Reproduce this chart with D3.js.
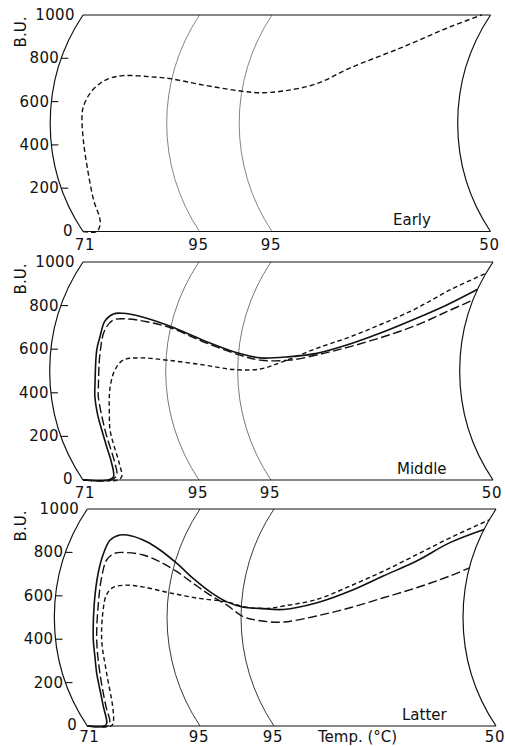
<!DOCTYPE html>
<html>
<head>
<meta charset="utf-8">
<script src="https://cdn.jsdelivr.net/npm/d3@7"></script>
<style>
  html, body { margin: 0; background: #fff; }
  svg { display: block; }
  text { font-family: "DejaVu Sans", sans-serif; fill: #111; }
</style>
</head>
<body>
<svg id="chart" width="505" height="746"></svg>
<script>
// Amylograms: viscosity in Brabender units against recorder time (min).
// Temperature program: 71 °C -> 95 °C, hold at 95 °C, cool to 50 °C.
const buTicks = [0, 200, 400, 600, 800, 1000];
const tempTimes = [0, 16, 26, 56];
const tempLabels = ["71", "95", "95", "50"];
const stageNames = ["Early", "Middle", "Latter"];

// [time (min), viscosity (B.U.)]
const earlyDashed = [[0,0],[1.9,0],[3.2,45],[3.8,146],[4.4,300],[4.45,423],[4.35,530],[4.45,576],[5.15,638],[6.3,685],[7.5,708],[9.2,720],[12.9,715],[15.8,706],[20.1,679],[25.8,649],[28.5,641],[31.7,649],[36.1,683],[40.1,755],[46.1,848],[51.5,946],[54.8,1000]];

const middleSolid = [[0,0],[3.45,0],[4.5,15],[5.35,77],[5.75,153],[5.92,229],[5.93,306],[6.0,382],[6.2,444],[6.33,596],[6.52,657],[6.72,730],[7.6,762],[8.84,765],[11.6,749],[16.1,703],[21.1,638],[26.2,580],[29.0,560],[33.0,566],[36.6,581],[40.5,619],[44.7,673],[49.2,742],[52.7,803],[56,875]];
const middleLong = [[0,0],[3.9,0],[5.1,23],[5.8,77],[6.37,229],[6.47,382],[6.58,413],[6.83,581],[7.0,688],[7.83,734],[9.66,739],[12.5,726],[16.2,696],[20.9,634],[26.2,573],[29.0,550],[33.0,550],[37.5,581],[41.0,612],[45.3,657],[49.5,711],[53.0,772],[56,826]];
const middleShort = [[0,0],[4.8,0],[5.63,15],[6.4,77],[6.8,153],[7.06,229],[7.59,306],[7.99,382],[8.32,436],[9.0,505],[10.1,550],[12.4,560],[16.6,548],[21.2,528],[25.4,507],[29.0,509],[32.1,543],[36.5,604],[40.8,657],[44.9,719],[48.8,788],[52.3,872],[56,948]];

const latterSolid = [[0,0],[2.4,0],[3.0,12],[3.9,89],[4.5,166],[4.86,243],[5.2,320],[5.35,396],[5.6,566],[5.5,705],[5.45,797],[5.65,857],[6.73,880],[8.46,876],[10.95,849],[13.3,811],[16.3,749],[19.0,680],[21.6,618],[24.0,572],[26.3,547],[28.5,542],[31.7,537],[36.2,568],[40.5,622],[44.6,691],[48.6,760],[52.2,845],[56,906]];
const latterLong = [[0,0],[2.9,0],[3.6,20],[4.27,89],[5.32,243],[5.83,396],[6.18,566],[6.12,688],[6.2,765],[7.07,796],[8.7,799],[11.2,788],[13.8,757],[16.6,711],[19.15,657],[21.6,604],[24.0,558],[26.3,504],[28.6,485],[31.7,479],[36.2,507],[40.7,545],[45.1,591],[49.4,637],[53.6,691],[56,729]];
const latterShort = [[0,0],[3.4,0],[4.1,20],[5.22,89],[6.27,243],[6.54,396],[6.91,534],[7.2,603],[7.96,638],[9.81,649],[12.2,641],[16.1,614],[20.2,588],[24.0,572],[26.7,547],[29.4,542],[31.7,553],[36.2,584],[40.4,645],[44.5,714],[48.4,791],[52.0,868],[56,950]];

// Line styles
const SOLID = null, LONG = "9,3.5", SHORT = "4.5,3";

// Panel geometry
const PEN_R = 195;  // radius of the recorder pen arc (px)
const panels = [
  { top: 15,  bottom: 231.5, xr: [83, 199.5, 272, 490.5], guide: "#666", guideW: 0.8, nameX: 393, labelDy: 18.5,
    series: [{ data: earlyDashed, dash: "5,3" }] },
  { top: 262, bottom: 480,   xr: [83, 199, 271, 493],     guide: "#555", guideW: 0.8, nameX: 397, labelDy: 18,
    series: [{ data: middleSolid, dash: SOLID }, { data: middleLong, dash: LONG }, { data: middleShort, dash: SHORT }] },
  { top: 509, bottom: 726,   xr: [87.3, 200, 274, 496],   guide: "#222", guideW: 0.9, nameX: 402, labelDy: 15.5,
    series: [{ data: latterSolid, dash: SOLID }, { data: latterLong, dash: LONG }, { data: latterShort, dash: SHORT }] }
];
const tempLabelShift = [2, -1, -1, -1];

const svg = d3.select("#chart");

panels.forEach((P, i) => {
  const g = svg.append("g");
  const y = d3.scaleLinear().domain([0, 1000]).range([P.bottom, P.top]);
  const x = d3.scaleLinear().domain(tempTimes).range(P.xr);
  const yc = (P.top + P.bottom) / 2, H = (P.bottom - P.top) / 2;
  const base = Math.sqrt(PEN_R * PEN_R - H * H);
  // horizontal displacement of the pen arc at a given height
  const bend = py => Math.sqrt(PEN_R * PEN_R - (py - yc) * (py - yc)) - base;
  const px = (t, v) => x(t) - bend(y(v));

  // guide arcs (pen paths) at each temperature mark
  tempTimes.forEach((t, k) => {
    const edge = k === 0 || k === tempTimes.length - 1;
    g.append("path")
      .attr("d", `M${x(t)},${y(1000)} A${PEN_R},${PEN_R} 0 0 0 ${x(t)},${y(0)}`)
      .attr("fill", "none")
      .attr("stroke", edge ? "#111" : P.guide)
      .attr("stroke-width", edge ? 1.2 : P.guideW);
  });

  // top and bottom borders
  [0, 1000].forEach(v => {
    g.append("line")
      .attr("x1", x(tempTimes[0])).attr("x2", x(tempTimes[tempTimes.length - 1]))
      .attr("y1", y(v)).attr("y2", y(v))
      .attr("stroke", "#111").attr("stroke-width", 1.2);
  });

  // B.U. ticks and labels along the left arc
  buTicks.forEach(v => {
    const ax = px(0, v), ay = y(v);
    const end = v === 0 || v === 1000;
    if (!end) {
      g.append("line").attr("x1", ax).attr("x2", ax + 7).attr("y1", ay).attr("y2", ay)
        .attr("stroke", "#111").attr("stroke-width", 1.1);
    }
    g.append("text")
      .attr("x", ax - (v === 0 ? 10 : end ? 8 : 2)).attr("y", ay - (v === 0 ? 1 : 0))
      .attr("text-anchor", "end").attr("dominant-baseline", "central")
      .attr("font-size", 15).attr("letter-spacing", 0.4)
      .text(v);
  });

  g.append("text")
    .attr("transform", `translate(21,${P.top + 17}) rotate(-90)`)
    .attr("text-anchor", "middle").attr("dominant-baseline", "central")
    .attr("font-size", 15)
    .text("B.U.");

  // temperature labels under the chart
  tempTimes.forEach((t, k) => {
    g.append("text")
      .attr("x", x(t) + tempLabelShift[k]).attr("y", y(0) + P.labelDy)
      .attr("text-anchor", "middle")
      .attr("font-size", 15).attr("letter-spacing", 0.6)
      .text(tempLabels[k]);
  });

  // stage name
  g.append("text")
    .attr("x", P.nameX).attr("y", y(0) - 6.5)
    .attr("font-size", 15)
    .text(stageNames[i]);

  // amylogram curves
  const line = d3.line()
    .x(d => px(d[0], d[1]))
    .y(d => y(d[1]))
    .curve(d3.curveCatmullRom.alpha(0.5));

  P.series.forEach(s => {
    g.append("path")
      .attr("d", line(s.data))
      .attr("fill", "none")
      .attr("stroke", "#111")
      .attr("stroke-width", s.dash ? 1.4 : 1.6)
      .attr("stroke-dasharray", s.dash);
  });

  if (i === panels.length - 1) {
    g.append("text")
      .attr("x", 318).attr("y", y(0) + P.labelDy)
      .attr("font-size", 15)
      .text("Temp. (°C)");
  }
});
</script>
</body>
</html>
